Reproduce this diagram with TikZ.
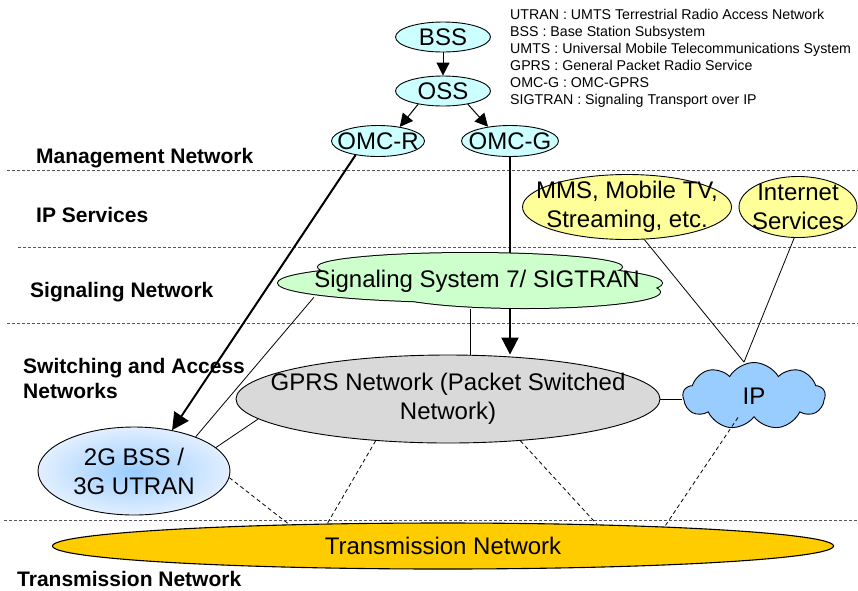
\documentclass[tikz,border=0pt]{standalone}
\usepackage{fontspec}
\setmainfont{Liberation Sans}
\usetikzlibrary{shapes.geometric,shapes.symbols,arrows.meta}
\definecolor{mgmtfill}{HTML}{CCFFFF}
\definecolor{svcfill}{HTML}{FFFF99}
\definecolor{sigfill}{HTML}{CCFFCC}
\definecolor{gprsfill}{HTML}{D9D9D9}
\definecolor{ipfill}{HTML}{99CCFF}
\definecolor{ranin}{HTML}{99CCFF}
\definecolor{ranout}{HTML}{E2EFFF}
\definecolor{transfill}{HTML}{FFCC00}
\definecolor{divgray}{HTML}{555555}
\tikzset{
  ell/.style={ellipse, draw, line width=0.9pt, inner sep=0pt},
  txt/.style={font=\fontsize{24}{29}\selectfont, align=center, inner sep=0pt},
  lgd/.style={font=\fontsize{14.2}{17}\selectfont, inner sep=0pt, anchor=base west},
  lyr/.style={font=\bfseries\fontsize{21}{25}\selectfont, inner sep=0pt, anchor=base west, align=left},
  divider/.style={draw=divgray, line width=0.7pt, dash pattern=on 3pt off 2pt},
  smallarr/.style={-{Triangle[length=13pt,width=13pt]}, line width=1pt},
  bigarr/.style={-{Triangle[length=17pt,width=17pt]}, line width=2pt},
  thinline/.style={line width=0.8pt},
  dashline/.style={line width=0.8pt, dash pattern=on 4pt off 3pt},
}
\begin{document}
\begin{tikzpicture}[x=1pt,y=-1pt]
\useasboundingbox (0,0) rectangle (858,590);
% layer dividers
\draw[divider] (7,170) -- (858,170);
\draw[divider] (18,247) -- (858,247);
\draw[divider] (7,323) -- (858,323);
\draw[divider] (4,520) -- (858,520);
% layer labels
\node[lyr] (lm) at (36,163) {Management Network};
\node[lyr] (li) at (36,222) {IP Services};
\node[lyr] (ls) at (30,297) {Signaling Network};
\node[lyr] (lsw) at (23,373) {Switching and Access};
\node[lyr] (lsw2) at (23,398) {Networks};
\node[lyr] (lt) at (17,586) {Transmission Network};
% legend
\node[lgd] (g1) at (510,19) {UTRAN : UMTS Terrestrial Radio Access Network};
\node[lgd] (g2) at (510,36) {BSS : Base Station Subsystem};
\node[lgd] (g3) at (510,53) {UMTS : Universal Mobile Telecommunications System};
\node[lgd] (g4) at (510,70) {GPRS : General Packet Radio Service};
\node[lgd] (g5) at (510,87) {OMC-G : OMC-GPRS};
\node[lgd] (g6) at (510,104) {SIGTRAN : Signaling Transport over IP};
% management
\node[ell, fill=mgmtfill, minimum width=95pt, minimum height=30pt, label={[txt]center:BSS}] (BSS) at (443,37) {};
\node[ell, fill=mgmtfill, minimum width=95pt, minimum height=30pt, label={[txt]center:OSS}] (OSS) at (443,91) {};
\node[ell, fill=mgmtfill, minimum width=93pt, minimum height=31pt, label={[txt]center:OMC-R}] (OMCR) at (378,141) {};
\node[ell, fill=mgmtfill, minimum width=97pt, minimum height=31pt, label={[txt]center:OMC-G}] (OMCG) at (510,141) {};
% IP services
\node[ell, fill=svcfill, minimum width=209pt, minimum height=65pt, label={[txt]center:{MMS, Mobile TV,\\Streaming, etc.}}] (MMS) at (627,207) {};
\node[ell, fill=svcfill, minimum width=118pt, minimum height=61pt, label={[txt]center:{Internet\\Services}}] (INET) at (798,207) {};
% transmission
\node[ell, line width=1.1pt, fill=transfill, minimum width=781pt, minimum height=46pt, label={[txt]center:Transmission Network}] (TRANS) at (443,546) {};
% switching and access
\node[ell, fill=gprsfill, minimum width=424pt, minimum height=88pt, label={[txt]center:{GPRS Network (Packet Switched\\Network)}}] (GPRS) at (448,399) {};
\node[ell, shading=radial, inner color=ranin, outer color=ranout, minimum width=192pt, minimum height=88pt, label={[txt]center:{2G BSS /\\3G UTRAN}}] (RAN) at (134,471) {};
\node[cloud, draw, line width=0.9pt, fill=ipfill, cloud puffs=9, cloud puff arc=120, aspect=2.1, minimum width=142pt, minimum height=67pt, inner sep=0pt, label={[txt]center:IP}] (IP) at (754,396) {};
% management arrows
\draw[smallarr] (BSS.south) -- (OSS.north);
\draw[smallarr] (OSS.208) -- (OMCR.33);
\draw[smallarr] (OSS.332) -- (OMCG.147);
\draw[bigarr] (OMCR.212) -- (RAN.47);
\draw[bigarr] (OMCG.south) -- (OMCG.south |- GPRS.north);
% signaling cloud
\draw[line width=2pt] (470,283) ellipse [x radius=192pt, y radius=19pt];
\draw[line width=2pt] (470,267) ellipse [x radius=152pt, y radius=14pt];
\draw[line width=2pt] (525,292) ellipse [x radius=135pt, y radius=16pt];
\fill[sigfill] (470,283) ellipse [x radius=192pt, y radius=19pt];
\fill[sigfill] (470,267) ellipse [x radius=152pt, y radius=14pt];
\fill[sigfill] (525,292) ellipse [x radius=135pt, y radius=16pt];
\node[ellipse, inner sep=0pt, minimum width=384pt, minimum height=56pt, label={[txt, xshift=7pt]center:Signaling System 7/ SIGTRAN}] (SIG) at (470,281) {};
% solid connectors
\draw[thinline] (SIG.186) -- (RAN.29);
\draw[thinline] (SIG.south) -- (SIG.south |- GPRS.north);
\draw[thinline] (RAN.16) -- (GPRS.186);
\draw[thinline] (GPRS.east) -- (GPRS.east -| IP.west);
\draw[thinline] (MMS.298) -- ([xshift=-10pt]IP.north);
\draw[thinline] (INET.263) -- ([xshift=-10pt]IP.north);
% dashed connectors to transmission
\draw[dashline] (RAN.356) -- (TRANS.172.3);
\draw[dashline] (GPRS.210.3) -- (TRANS.169.9);
\draw[dashline] (GPRS.330.1) -- (TRANS.8.6);
\draw[dashline] ([xshift=-16pt]IP.south) -- (TRANS.5.5);
\end{tikzpicture}
\end{document}
